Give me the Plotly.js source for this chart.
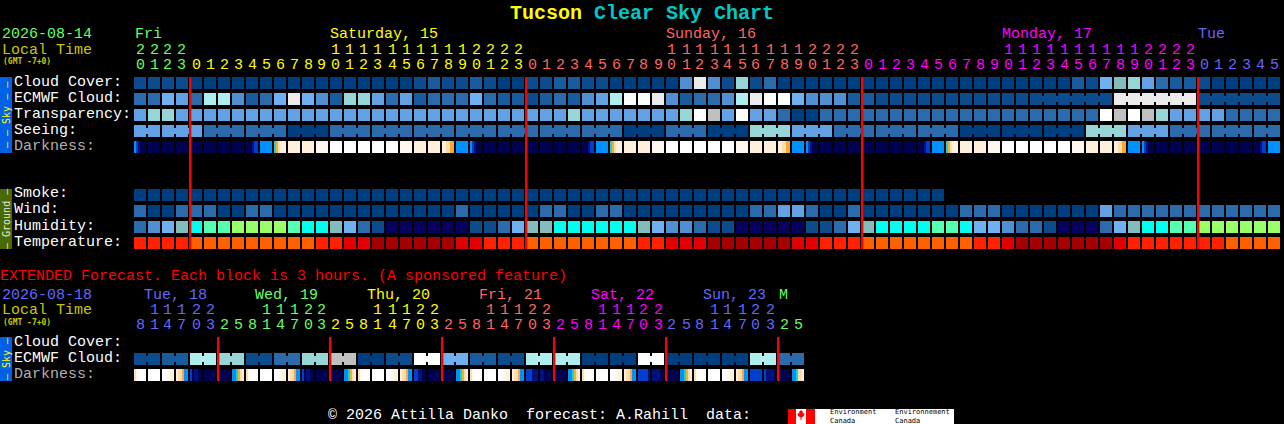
<!DOCTYPE html>
<html>
<head>
<meta charset="utf-8">
<script src="https://cdn.plot.ly/plotly-3.0.1.min.js"></script>
<style>
html, body { margin: 0; padding: 0; background: #000; overflow: hidden; }
</style>
</head>
<body>
<div id="chart"></div>
<script>
// colour table for the block rows, values below are indexes into it
const blockColors = [
    '#003f7f', '#0d4c8c', '#185c9e', '#2b6bab', '#4f8fd2', '#62a2e4', '#6fb0f0',
    '#82bcbc', '#96d6d6', '#aeeeee', '#ebebeb', '#c0c0c0', '#ffffff',
    '#08005e', '#00ffee', '#55ffb0', '#99ff66',
    '#a50000', '#e00000', '#ff2200', '#ff6000'
];
const darkColors = ['#ffffff', '#fff8f0', '#fff0dc', '#ffdcae', '#ffa733', '#00e0d0', '#0090ff', '#0040cc', '#00107f', '#000050'];

const cloudCover = [
    1,1,1,1,0,0,0,0,0,0,
    0,0,0,0,0,0,0,0,0,0,
    1,2,1,1,2,1,0,0,1,1,
    2,2,1,1,0,0,0,0,0,4,
    10,4,1,8,1,3,0,0,0,0,
    0,0,0,0,0,0,0,0,0,0,
    0,0,0,0,0,0,0,2,1,6,
    7,8,5,3,2,2,1,0,0,0,
    0,0
];
const ecmwfCloud = [
    3,3,6,5,3,9,9,4,2,3,
    6,10,6,4,2,8,8,5,3,5,
    2,3,3,3,6,3,2,2,1,2,
    3,2,4,5,9,12,12,10,4,2,
    3,3,4,9,10,12,12,6,4,4,
    4,2,2,1,1,1,1,1,1,1,
    1,1,1,1,1,1,1,1,1,1,
    10,10,10,10,10,10,1,1,1,1,
    1,1
];
const transparency = [
    5,8,8,5,5,5,5,5,5,5,
    5,5,5,5,5,5,5,5,5,5,
    5,5,5,5,5,5,5,5,5,5,
    5,8,5,5,5,5,5,5,5,8,
    12,11,5,12,5,5,3,0,0,3,
    3,3,3,3,3,3,3,3,3,3,
    3,3,3,3,3,3,3,3,3,12,
    11,12,11,8,5,5,5,5,3,3,
    3,3
];
const seeing = [
    5,5,5,5,5,3,3,3,3,3,
    3,0,0,0,3,3,3,3,3,3,
    3,3,3,3,3,3,3,3,3,3,
    3,3,3,3,3,0,0,0,3,3,
    3,0,0,0,8,8,8,5,5,5,
    3,3,3,3,3,3,3,3,3,0,
    0,0,0,0,0,0,0,0,8,8,
    8,5,5,5,3,3,3,3,3,3,
    3,3
];
const smoke = [
    0,0,0,0,0,0,0,0,0,0,
    0,0,0,0,0,0,0,0,0,0,
    0,0,0,0,0,0,0,0,0,0,
    0,0,0,0,0,0,0,0,0,0,
    0,0,0,0,0,0,0,0,0,0,
    0,0,0,0,0,0,0,0
];
const wind = [
    3,0,0,3,3,3,0,0,3,3,
    0,0,0,0,0,0,0,0,0,0,
    0,0,0,3,0,0,0,0,0,3,
    3,0,0,3,3,0,0,0,0,0,
    0,0,0,0,3,3,5,5,3,0,
    0,3,0,0,0,0,0,0,0,3,
    3,3,0,0,0,0,0,0,0,5,
    3,3,3,3,3,3,3,3,3,3,
    3,3
];
const humidity = [
    3,4,6,7,14,15,15,16,16,16,
    16,15,14,14,7,6,3,1,13,13,
    13,13,13,13,1,1,3,6,7,7,
    14,14,14,14,14,14,7,6,4,4,
    3,1,1,13,13,13,13,13,1,1,
    3,6,7,14,14,14,14,15,15,14,
    6,6,4,3,3,1,13,13,13,3,
    6,7,14,14,15,15,16,16,16,16,
    16,16
];
const temperature = [
    19,19,19,19,20,20,20,20,20,20,
    20,20,20,19,19,18,18,17,17,17,
    17,17,17,18,18,19,19,19,20,20,
    20,20,20,20,20,20,19,19,18,18,
    18,17,17,17,17,17,17,18,18,19,
    19,19,20,20,20,20,20,20,20,20,
    19,19,18,17,17,17,17,17,17,17,
    18,19,19,19,19,19,19,19,20,20,
    20,20
];
// darkness: one index per block, or six samples where the block fades
const darkness = [
    [6,7,8,9,9,9],9,9,9,9,9,9,9,[9,9,9,8,7,7],6,
    [5,4,3,2,2,2],2,2,1,0,0,0,0,0,1,
    2,2,[2,2,3,3,4,4],6,[6,7,8,9,9,9],9,9,9,9,9,
    9,9,[9,9,9,8,7,7],6,[5,4,3,2,2,2],2,2,1,0,0,
    0,0,0,1,2,2,[2,2,3,3,4,4],6,[6,7,8,9,9,9],9,
    9,9,9,9,9,9,[9,9,9,8,7,7],6,[5,4,3,2,2,2],2,
    2,1,0,0,0,0,0,1,2,2,
    [2,2,3,3,4,4],6,[6,7,8,9,9,9],9,9,9,9,9,9,9,
    [9,9,9,8,7,7],6
];

const extCloud = [
    1,1,2,2,9,9,8,8,1,1,3,3,8,8,11,11,
    0,0,1,1,12,12,6,6,2,2,1,1,9,9,9,9,
    0,0,0,0,12,12,0,0,0,0,0,0,9,9,3,3
];
const extDarkness = [
    [3,1,0,0,0,0],0,[0,0,0,1,2,2],[2,3,3,4,6,6],[7,9,8,8,9,9],9,9,[6,6,5,4,3,2],
    [3,1,0,0,0,0],0,[0,0,0,1,2,2],[2,3,3,4,6,6],[7,9,8,8,9,9],9,9,[6,6,5,4,3,2],
    [3,1,0,0,0,0],0,[0,0,0,1,2,2],[2,3,3,4,6,6],[7,7,8,8,9,9],9,9,[6,6,5,4,3,2],
    [3,1,0,0,0,0],0,[0,0,0,1,2,2],[2,3,3,4,6,6],[7,7,7,8,8,8],[8,8,9,9,9,9],9,[6,6,5,4,3,2],
    [3,1,0,0,0,0],0,[0,0,0,1,2,2],[2,3,3,4,6,6],[7,7,7,7,7,8],[8,8,8,8,9,9],9,[6,6,5,4,3,2],
    [3,1,0,0,0,0],0,[0,0,0,1,2,2],[2,3,3,4,6,6],[7,7,7,7,7,7],[7,8,8,8,8,9],9,[6,6,5,3,3,2]
];

// first column of each run of joined blocks
const seeingRuns = [0,2,5,8,11,14,17,20,23,26,29,32,35,38,41,44,47,50,53,56,59,62,65,68,71,74,77,80,82];
const ecmwfRuns = [64,70,76,82];
const extRuns = [0,2,4,6,8,10,12,14,16,18,20,22,24,26,28,30,32,34,36,38,40,42,44,46,48];

// columns where a new day starts
const dayBreaks = [4,28,52,76];
const extDayBreaks = [6,14,22,30,38,46];

const hourTens = ['2','2','2','2','','','','','','','','','','','1','1','1','1','1','1','1','1','1','1','2','2','2','2',
    '','','','','','','','','','','1','1','1','1','1','1','1','1','1','1','2','2','2','2',
    '','','','','','','','','','','1','1','1','1','1','1','1','1','1','1','2','2','2','2',
    '','','','','',''];
const hourOnes = ['0','1','2','3','0','1','2','3','4','5','6','7','8','9','0','1','2','3','4','5','6','7','8','9','0','1','2','3',
    '0','1','2','3','4','5','6','7','8','9','0','1','2','3','4','5','6','7','8','9','0','1','2','3',
    '0','1','2','3','4','5','6','7','8','9','0','1','2','3','4','5','6','7','8','9','0','1','2','3',
    '0','1','2','3','4','5'];
const extTens = ['','1','1','1','2','2','','','','1','1','1','2','2','','','','1','1','1','2','2','','','','1','1','1','2','2','','','','1','1','1','2','2','','','','1','1','1','2','2','',''];
const extOnes = ['8','1','4','7','0','3','2','5','8','1','4','7','0','3','2','5','8','1','4','7','0','3','2','5','8','1','4','7','0','3','2','5','8','1','4','7','0','3','2','5','8','1','4','7','0','3','2','5'];

const green = '#66ff66', yellow = '#ffff00', salmon = '#ff6666', magenta = '#ff00ff', violet = '#6666ff';
const hourColors = [green, yellow, salmon, magenta, violet];
const extColors = [violet, green, yellow, salmon, magenta, violet, green];

const dayLabels = ['Fri', 'Saturday, 15', 'Sunday, 16', 'Monday, 17', 'Tue'];
const dayLabelX = [135, 330, 666, 1002, 1198];
const extDayLabels = ['Tue, 18', 'Wed, 19', 'Thu, 20', 'Fri, 21', 'Sat, 22', 'Sun, 23', 'M'];
const extDayLabelX = [144, 255, 367, 479, 591, 703, 779];

const W = 1284, H = 424;
const mono = 'Liberation Mono, monospace';
const smallMono = 'DejaVu Sans Mono, monospace';
function px(x) { return x / W; }
function py(y) { return 1 - y / H; }

let annotations = [];
function label(x, y, text, color, size, extra) {
    annotations.push(Object.assign({
        xref: 'paper', yref: 'paper', x: px(x - 1), y: py(y), text: text,
        showarrow: false, xanchor: 'left', yanchor: 'middle', borderpad: 0,
        font: { family: mono, size: size || 15, color: color }
    }, extra || {}));
}
function digit(x, y, text, color) {
    label(x + 1, y, text, color, 15, { xanchor: 'center' });
}

// colourscale where each integer value lands exactly on its colour
function toScale(colors) {
    return colors.map((c, i) => [i / (colors.length - 1), c]);
}

const blank = new Array(82).fill(null);
function pad(row) {
    return row.concat(new Array(82 - row.length).fill(null));
}

// 14 pixel wide columns: one pixel gap, 12 pixels of block, one pixel gap
function fadeRow(values) {
    let x = [], z = [];
    values.forEach((v, col) => {
        let samples = Array.isArray(v) ? v : [v, v, v, v, v, v];
        for (let k = 0; k < 14; k++) {
            x.push(col - 0.5 + (k + 0.5) / 14);
            z.push(k === 0 || k === 13 ? null : samples[Math.floor((k - 1) / 2)]);
        }
    });
    return { x: x, z: z };
}

function blocks(z, xa, ya) {
    return {
        type: 'heatmap', z: z, xaxis: xa, yaxis: ya, xgap: 2, ygap: 4,
        colorscale: toScale(blockColors), zmin: 0, zmax: blockColors.length - 1,
        showscale: false, hoverinfo: 'skip'
    };
}

function fades(values, row, xa, ya) {
    let f = fadeRow(values);
    return {
        type: 'heatmap', x: f.x, y: [row], z: [f.z], xaxis: xa, yaxis: ya, ygap: 4,
        colorscale: toScale(darkColors), zmin: 0, zmax: darkColors.length - 1,
        showscale: false, hoverinfo: 'skip'
    };
}

// short bars which tie neighbouring blocks of a run together
function joins(values, runs, row, xa, ya) {
    let out = [];
    for (let r = 0; r < runs.length - 1; r++) {
        for (let c = runs[r]; c < runs[r + 1] - 1; c++) {
            out.push({
                type: 'scatter', mode: 'lines', xaxis: xa, yaxis: ya, hoverinfo: 'skip',
                x: [c + 0.5 - 1 / 14, c + 0.5 + 1 / 14], y: [row, row],
                line: { color: blockColors[values[c]], width: 6 }
            });
        }
    }
    return out;
}

let mainRows = [cloudCover, ecmwfCloud, transparency, seeing, blank, blank, blank, pad(smoke), wind, humidity, temperature];
let extRows = [new Array(48).fill(null), extCloud, new Array(48).fill(null)];

let data = [
    blocks(mainRows, 'x', 'y'),
    fades(darkness, 4, 'x', 'y'),
    blocks(extRows, 'x2', 'y2'),
    fades(extDarkness, 2, 'x2', 'y2')
].concat(
    joins(seeing, seeingRuns, 3, 'x', 'y'),
    joins(ecmwfCloud, ecmwfRuns, 1, 'x', 'y'),
    joins(extCloud, extRuns, 1, 'x2', 'y2')
);

// red day lines on the gap before the day's first block
let shapes = [];
dayBreaks.forEach(c => shapes.push({
    type: 'rect', xref: 'x', yref: 'y', x0: c - 0.5, x1: c - 0.5 + 2.4 / 14,
    y0: -0.5 + 2 / 16, y1: 10.5 - 2 / 16, fillcolor: '#ff0000', line: { width: 0 }, layer: 'above'
}));
extDayBreaks.forEach(c => shapes.push({
    type: 'rect', xref: 'x2', yref: 'y2', x0: c - 0.5, x1: c - 0.5 + 2.4 / 14,
    y0: -0.5 + 2 / 16, y1: 2.5 - 2 / 16, fillcolor: '#ff0000', line: { width: 0 }, layer: 'above'
}));

// side bars
function sideBar(y0, y1, color) {
    shapes.push({
        type: 'rect', xref: 'paper', yref: 'paper', x0: px(0), x1: px(12), y0: py(y0), y1: py(y1),
        fillcolor: color, line: { width: 0 }, layer: 'below'
    });
}
sideBar(77, 153, '#0060e8');
sideBar(189, 249, '#496a00');
sideBar(337, 381, '#0060e8');

// logo at the bottom
function box(x0, x1, color) {
    shapes.push({
        type: 'rect', xref: 'paper', yref: 'paper', x0: px(x0), x1: px(x1), y0: py(409), y1: py(424),
        fillcolor: color, line: { width: 0 }, layer: 'above'
    });
}
box(788, 954, '#ffffff');
box(788, 796, '#ff0000');
box(806, 815, '#ff0000');
const leafX = [801, 799, 799.5, 797.5, 798, 800.5, 800.5, 801.5, 801.5, 804, 804.5, 802.5, 803];
const leafY = [410, 412, 413.5, 413, 416, 417.5, 420, 420, 417.5, 416, 413, 413.5, 412];
shapes.push({
    type: 'path', xref: 'paper', yref: 'paper', layer: 'above',
    path: 'M' + leafX.map((x, i) => px(x) + ',' + py(leafY[i])).join('L') + 'Z',
    fillcolor: '#ff0000', line: { width: 0 }
});
const logoFont = { family: smallMono, size: 7, color: '#000000' };
label(830, 416, 'Environment<br>Canada', '#000000', 7, { font: logoFont, align: 'left' });
label(895, 416, 'Environnement<br>Canada', '#000000', 7, { font: logoFont, align: 'left' });

// header of the main chart
const gmtFont = { family: smallMono, size: 8, color: '#c8c800', weight: 'bold' };
label(2, 35, '2026-08-14', green);
label(2, 50, 'Local Time', '#c8c800');
label(3, 61, '(GMT -7+0)', '#c8c800', 8, { font: gmtFont });
dayLabels.forEach((t, i) => label(dayLabelX[i], 35, t, hourColors[i]));

hourOnes.forEach((h, col) => {
    let day = 0;
    dayBreaks.forEach((b, i) => { if (col >= b) day = i + 1; });
    let x = 140 + 14 * col;
    digit(x, 65, h, hourColors[day]);
    if (hourTens[col]) digit(x, 50, hourTens[col], hourColors[day]);
});

const skyNames = ['Cloud Cover:', 'ECMWF Cloud:', 'Transparency:', 'Seeing:', 'Darkness:'];
skyNames.forEach((t, i) => label(14, 82 + 16 * i, t, i === 4 ? '#b0b0b0' : '#ffffff'));
const groundNames = ['Smoke:', 'Wind:', 'Humidity:', 'Temperature:'];
groundNames.forEach((t, i) => label(14, 194 + 16 * i, t, '#ffffff'));

// extended part
label(0, 276, 'EXTENDED Forecast. Each block is 3 hours. (A sponsored feature)', '#ff0000');
label(2, 295, '2026-08-18', violet);
label(2, 310, 'Local Time', '#c8c800');
label(3, 322, '(GMT -7+0)', '#c8c800', 8, { font: gmtFont });
extDayLabels.forEach((t, i) => label(extDayLabelX[i], 295, t, extColors[i]));
extOnes.forEach((h, col) => {
    let day = 0;
    extDayBreaks.forEach((b, i) => { if (col >= b) day = i + 1; });
    let x = 140 + 14 * col;
    digit(x, 325, h, extColors[day]);
    if (extTens[col]) digit(x, 310, extTens[col], extColors[day]);
});
const extNames = ['Cloud Cover:', 'ECMWF Cloud:', 'Darkness:'];
extNames.forEach((t, i) => label(14, 342 + 16 * i, t, i === 2 ? '#b0b0b0' : '#ffffff'));

// rotated side bar text
function sideText(y, text, color) {
    label(7, y, text, color, 10, { xanchor: 'center', textangle: -90, font: { family: smallMono, size: 10, color: color } });
}
sideText(115, '\u2013 \u2013 Sky \u2013 \u2013', '#ffff00');
sideText(219, '\u2013 Ground \u2013', '#e8e8e8');
sideText(359, '\u2013 Sky \u2013', '#ffff00');

label(328, 415, '\u00a9 2026 Attilla Danko  forecast: A.Rahill  data:', '#ffffff');

const hidden = { visible: false, fixedrange: true };
const layout = {
    width: W, height: H,
    margin: { l: 0, r: 0, t: 0, b: 0, pad: 0 },
    paper_bgcolor: '#000000', plot_bgcolor: 'rgba(0,0,0,0)',
    showlegend: false,
    title: {
        text: 'Tucson <span style="color:#00c8c8">Clear Sky Chart</span>',
        x: 0.5, xanchor: 'center', xref: 'paper', y: py(12), yanchor: 'middle', yref: 'paper',
        font: { family: mono, size: 20, color: '#ffff00', weight: 'bold' }
    },
    xaxis: Object.assign({ range: [-0.5, 81.5], domain: [px(133), px(1281)], anchor: 'y' }, hidden),
    yaxis: Object.assign({ range: [10.5, -0.5], domain: [py(251), py(75)], anchor: 'x' }, hidden),
    xaxis2: Object.assign({ range: [-0.5, 47.5], domain: [px(133), px(805)], anchor: 'y2' }, hidden),
    yaxis2: Object.assign({ range: [2.5, -0.5], domain: [py(383), py(335)], anchor: 'x2' }, hidden),
    shapes: shapes,
    annotations: annotations
};

Plotly.newPlot('chart', data, layout, { displayModeBar: false, staticPlot: true });
</script>
</body>
</html>
